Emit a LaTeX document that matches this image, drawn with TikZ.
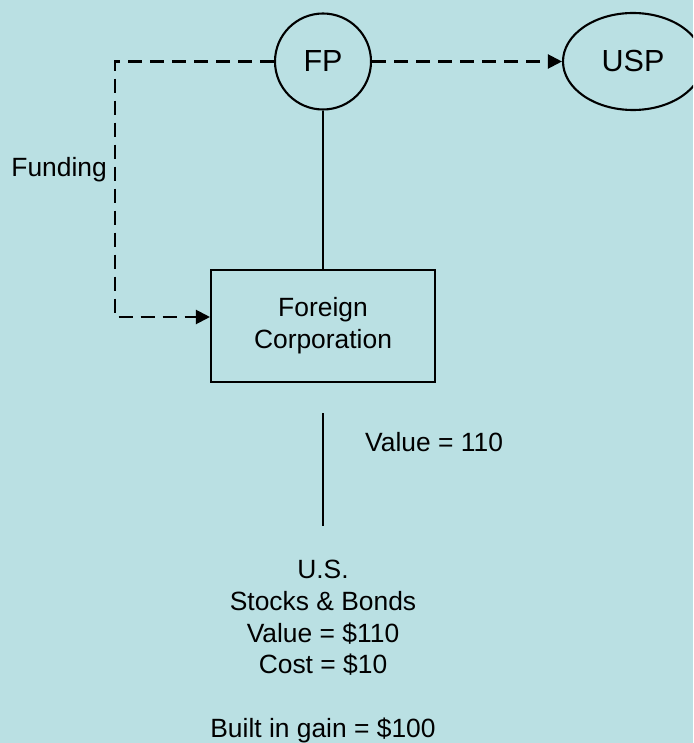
\documentclass[tikz,border=0pt]{standalone}
\usepackage{fontspec}
\setmainfont{Liberation Sans}
\usetikzlibrary{arrows.meta,shapes.geometric}
\definecolor{bgblue}{RGB}{186,224,227}
\tikzset{
  every picture/.style={x=1pt,y=-1pt},
  outline/.style={draw=black,line width=2.1pt},
  entity/.style={outline,circle,minimum size=96pt,inner sep=0pt,font=\fontsize{30.5}{36}\selectfont},
  owner/.style={outline,ellipse,minimum width=140pt,minimum height=97pt,inner sep=0pt,font=\fontsize{30.5}{36}\selectfont},
  corpbox/.style={outline,rectangle,minimum width=224pt,minimum height=112pt,inner sep=0pt,align=center,font=\fontsize{26.4}{32}\selectfont},
  label/.style={inner sep=0pt,font=\fontsize{26.4}{31.5}\selectfont},
  solidlink/.style={line width=2.1pt},
  flow/.style={line width=2.1pt,dash pattern=on 14pt off 8pt,-{Triangle[length=14pt,width=14pt]}},
}
\begin{document}
\begin{tikzpicture}
  \useasboundingbox (0,0) rectangle (693,743);
  \clip (0,0) rectangle (693,743);
  \fill[bgblue] (0,0) rectangle (693,743);

  % parent, U.S. parent and the foreign subsidiary
  \node[entity] (fp) at (323,61.5) {FP};
  \node[owner] (usp) at (633,61.5) {USP};
  \node[corpbox] (fc) at (323,326) {Foreign\\Corporation};

  % ownership line and funding flows
  \draw[solidlink] (fp.south) -- (fc.north);
  \coordinate (bend1) at (115,61.5);
  \coordinate (bend2) at (115,317);
  \draw[flow] (fp.west) -- (bend1) -- (bend2) -- (fc.west |- bend2);
  \draw[flow] (fp.east) -- (usp.west);
  \node[label,anchor=base east] (funding) at (107,177) {Funding};

  % holding of U.S. securities
  \coordinate (hold1) at (323,413);
  \coordinate (hold2) at (323,526);
  \draw[solidlink] (hold1) -- (hold2);
  \node[label,anchor=base west] (val) at (365,451) {Value = 110};

  \node[label,anchor=base] (us) at (323,578) {U.S.};
  \node[label,anchor=base] (sb) at (323,610) {Stocks \& Bonds};
  \node[label,anchor=base] (sv) at (323,642) {Value = \$110};
  \node[label,anchor=base] (sc) at (323,673) {Cost = \$10};
  \node[label,anchor=base] (gain) at (323,737) {Built in gain = \$100};
\end{tikzpicture}
\end{document}
